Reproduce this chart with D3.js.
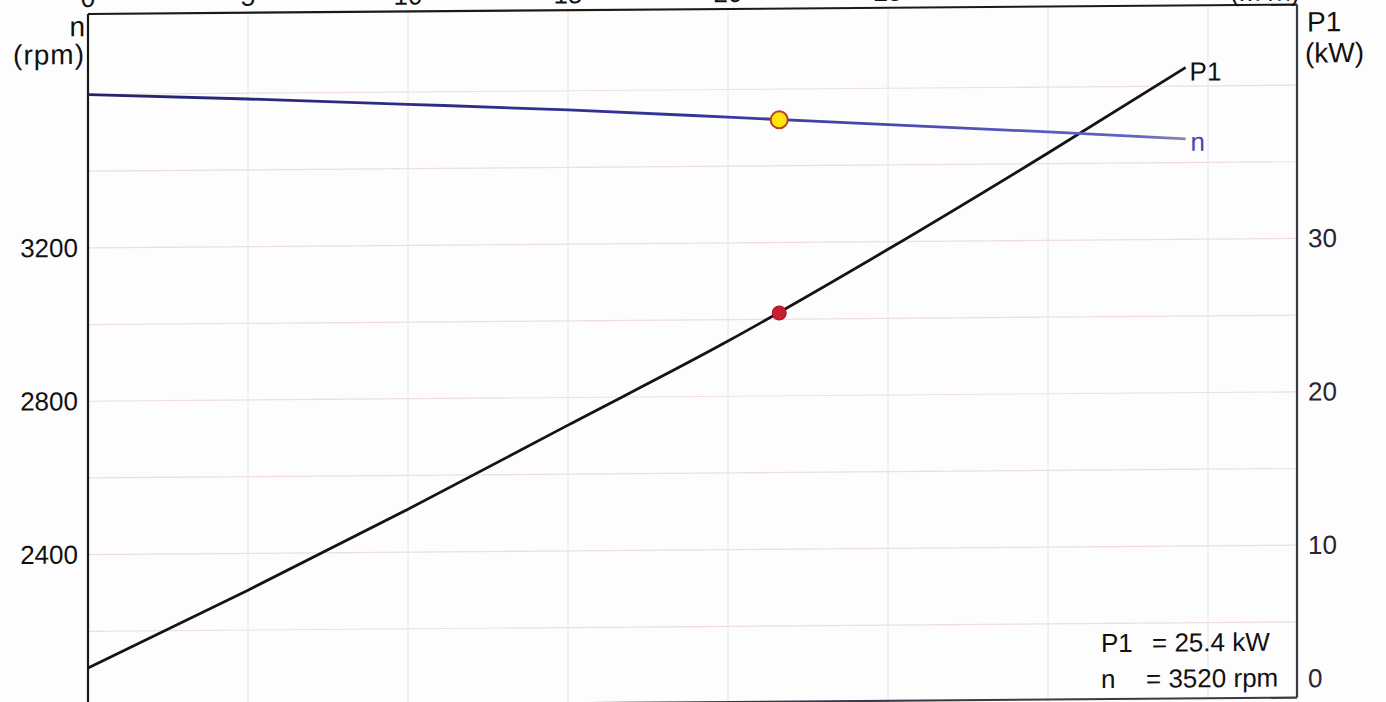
<!DOCTYPE html>
<html>
<head>
<meta charset="utf-8">
<script src="https://cdn.jsdelivr.net/npm/d3@7/dist/d3.min.js"></script>
<style>
  html, body { margin: 0; padding: 0; background: #fdfdfd; }
  svg { display: block; }
  text { font-family: "Liberation Sans", Arial, sans-serif; }
</style>
</head>
<body>
<svg id="chart" width="1386" height="702"></svg>
<script>
// Pump curve: flow on top axis, speed (left) and input power (right)
const flowTicks = [0, 5, 10, 15, 20, 25, 30];
const flowUnit = "(m³/h)";
const flow  = [0, 5, 10, 15, 20, 25, 30, 34.3];
const speed = [3600, 3585, 3568, 3550, 3528, 3505, 3483, 3462];
const power = [2.6, 7.6, 12.8, 18.2, 23.6, 29.5, 35.7, 41.2];
const dutyFlow = [21.6];
const dutyPower = [25.4];
const dutySpeed = [3520];
const speedTicks = [2400, 2800, 3200];
const speedGrid = [2200, 2400, 2600, 2800, 3000, 3200, 3400, 3600];
const powerTicks = [0, 10, 20, 30];
const flowGrid = [5, 10, 15, 20, 25, 30, 35];

const svg = d3.select("#chart");
const plotL = 88, plotR = 1297, plotT = 14, plotB = 708;
const tilt = 0.0078;
const FS = 26;

const x = d3.scaleLinear().domain([0, 37.78]).range([plotL, plotR]);
const yN = d3.scaleLinear().domain([2000, 3810]).range([plotB, plotT]);
const yP = d3.scaleLinear().domain([0, 45.25]).range([plotB, plotT]);

const defs = svg.append("defs");
const grad = defs.append("linearGradient").attr("id", "speedStroke")
  .attr("gradientUnits", "userSpaceOnUse")
  .attr("x1", x(0)).attr("x2", x(34.3)).attr("y1", 0).attr("y2", 0);
grad.append("stop").attr("offset", "0%").attr("stop-color", "#24246c");
grad.append("stop").attr("offset", "55%").attr("stop-color", "#34349a");
grad.append("stop").attr("offset", "96%").attr("stop-color", "#6464c8");
grad.append("stop").attr("offset", "100%").attr("stop-color", "#8a8a9a");

// the whole sheet sits slightly tilted
const g = svg.append("g")
  .attr("transform", `matrix(1, ${-tilt}, 0, 1, 0, ${tilt * plotL})`);

// gridlines
g.append("g").selectAll("line").data(speedGrid).join("line")
  .attr("x1", plotL).attr("x2", plotR)
  .attr("y1", d => yN(d)).attr("y2", d => yN(d))
  .attr("stroke", "#efdde3").attr("stroke-width", 1.2);
g.append("g").selectAll("line").data(flowGrid).join("line")
  .attr("x1", d => x(d)).attr("x2", d => x(d))
  .attr("y1", plotT).attr("y2", plotB)
  .attr("stroke", "#e9e8ee").attr("stroke-width", 1.2);

// frame
g.append("line").attr("x1", plotL).attr("x2", plotR).attr("y1", plotT).attr("y2", plotT)
  .attr("stroke", "#1a1a1a").attr("stroke-width", 2.2);
g.append("line").attr("x1", plotL).attr("x2", plotL).attr("y1", plotT).attr("y2", plotB)
  .attr("stroke", "#1a1a1a").attr("stroke-width", 2.2);
g.append("line").attr("x1", plotR).attr("x2", plotR).attr("y1", plotT).attr("y2", plotB - 1)
  .attr("stroke", "#3a3a44").attr("stroke-width", 2.2);
g.append("line").attr("x1", plotL).attr("x2", plotR).attr("y1", plotB - 1).attr("y2", plotB - 1)
  .attr("stroke", "#3a3a44").attr("stroke-width", 2.2);

// top flow axis labels
g.append("g").selectAll("text").data(flowTicks).join("text")
  .attr("x", d => x(d)).attr("y", plotT - 7)
  .attr("text-anchor", "middle").attr("font-size", FS).attr("fill", "#111")
  .text(d => d);
g.append("text").attr("x", plotR - 32).attr("y", plotT - 4)
  .attr("text-anchor", "middle").attr("font-size", FS).attr("fill", "#111")
  .text(flowUnit);

// left speed axis
const axL = g.append("g").attr("transform", `translate(${plotL},0)`)
  .call(d3.axisLeft(yN).tickValues(speedTicks).tickFormat(d3.format("d"))
    .tickSize(0).tickPadding(10));
axL.select(".domain").remove();
axL.selectAll("text").attr("font-size", FS).attr("fill", "#111")
  .attr("font-family", "Liberation Sans, Arial, sans-serif");
g.append("text").attr("x", plotL - 3).attr("y", plotT + 22)
  .attr("text-anchor", "end").attr("font-size", 28).attr("fill", "#111").text("n");
g.append("text").attr("x", plotL - 3).attr("y", plotT + 50)
  .attr("text-anchor", "end").attr("font-size", 28).attr("letter-spacing", 1)
  .attr("fill", "#111").text("(rpm)");

// right power axis
const axR = g.append("g").attr("transform", `translate(${plotR},0)`)
  .call(d3.axisRight(yP).tickValues(powerTicks).tickFormat(d3.format("d"))
    .tickSize(0).tickPadding(11));
axR.select(".domain").remove();
axR.selectAll("text").attr("font-size", FS).attr("fill", "#2b2233")
  .attr("font-family", "Liberation Sans, Arial, sans-serif");
axR.selectAll(".tick").filter(d => d === 0).select("text").attr("dy", "-0.45em");
g.append("text").attr("x", plotR + 10).attr("y", plotT + 27)
  .attr("font-size", 28).attr("fill", "#111").text("P1");
g.append("text").attr("x", plotR + 8).attr("y", plotT + 58)
  .attr("font-size", 28).attr("fill", "#111").text("(kW)");

// curves
const lineN = d3.line().x((d, i) => x(flow[i])).y(d => yN(d)).curve(d3.curveMonotoneX);
const lineP = d3.line().x((d, i) => x(flow[i])).y(d => yP(d)).curve(d3.curveMonotoneX);

g.append("path").datum(power).attr("d", lineP)
  .attr("fill", "none").attr("stroke", "#141414").attr("stroke-width", 2.8);
g.append("path").datum(speed).attr("d", lineN)
  .attr("fill", "none").attr("stroke", "url(#speedStroke)").attr("stroke-width", 2.8);

// curve names
const last = flow.length - 1;
g.append("text").attr("x", x(flow[last]) + 4).attr("y", yP(power[last]) + 13)
  .attr("font-size", FS).attr("fill", "#111").text("P1");
g.append("text").attr("x", x(flow[last]) + 5).attr("y", yN(speed[last]) + 12)
  .attr("font-size", FS).attr("fill", "#4646b4").text("n");

// duty point markers
g.append("g").selectAll("circle").data(dutyFlow).join("circle")
  .attr("cx", d => x(d)).attr("cy", (d, i) => yP(dutyPower[i])).attr("r", 7)
  .attr("fill", "#c81e30").attr("stroke", "#a01424").attr("stroke-width", 1);
g.append("g").selectAll("circle").data(dutyFlow).join("circle")
  .attr("cx", d => x(d)).attr("cy", (d, i) => yN(dutySpeed[i])).attr("r", 8.5)
  .attr("fill", "#ffe60a").attr("stroke", "#b8402a").attr("stroke-width", 2);

// duty point readout
const readout = g.append("g").attr("font-size", FS).attr("fill", "#111");
const r1 = readout.append("text").attr("y", plotB - 48);
r1.append("tspan").attr("x", 1101).text("P1");
r1.append("tspan").attr("x", 1152).text(`= ${dutyPower[0]} kW`);
const r2 = readout.append("text").attr("y", plotB - 12);
r2.append("tspan").attr("x", 1101).text("n");
r2.append("tspan").attr("x", 1146).text(`= ${dutySpeed[0]} rpm`);
</script>
</body>
</html>
